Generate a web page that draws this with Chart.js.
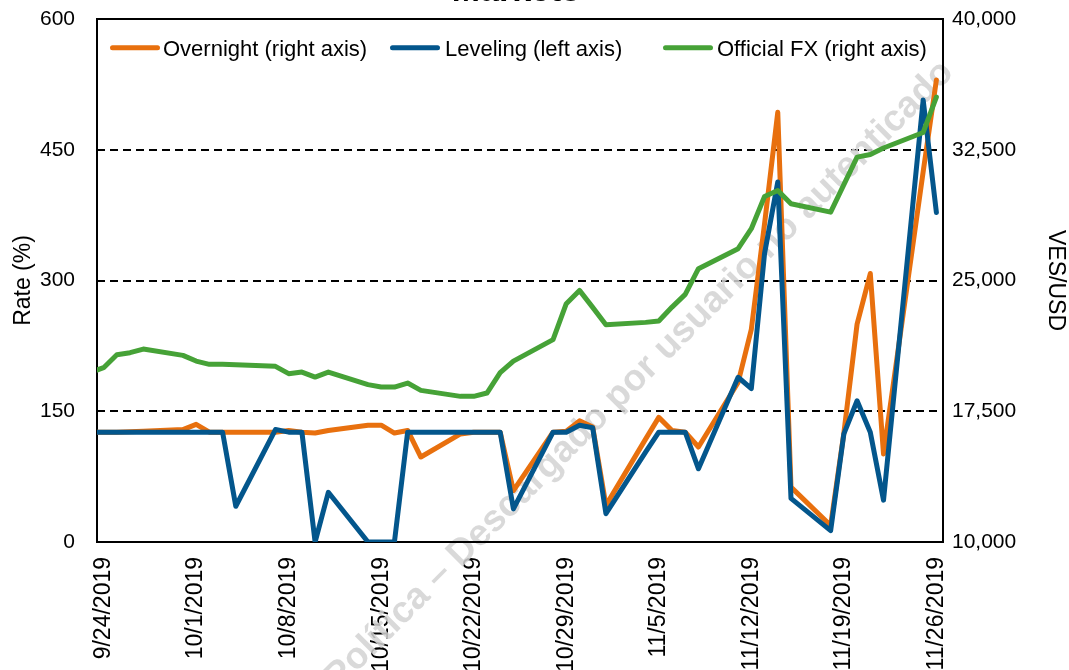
<!DOCTYPE html>
<html>
<head>
<meta charset="utf-8">
<script src="https://cdn.jsdelivr.net/npm/chart.js@4.4.1/dist/chart.umd.min.js"></script>
<style>
  html, body { margin: 0; padding: 0; background: #ffffff; }
  #wrap { width: 1069px; height: 670px; position: relative; }
</style>
</head>
<body>
<div id="wrap"><canvas id="c" width="1069" height="670"></canvas></div>
<script>
// ---- data ----
const dates = [
  '2019-09-23','2019-09-24','2019-09-25','2019-09-26','2019-09-27','2019-09-30',
  '2019-10-01','2019-10-02','2019-10-03','2019-10-04','2019-10-07','2019-10-08',
  '2019-10-09','2019-10-10','2019-10-11','2019-10-14','2019-10-15','2019-10-16',
  '2019-10-17','2019-10-18','2019-10-21','2019-10-22','2019-10-23','2019-10-24',
  '2019-10-25','2019-10-28','2019-10-29','2019-10-30','2019-10-31','2019-11-01',
  '2019-11-04','2019-11-05','2019-11-06','2019-11-07','2019-11-08','2019-11-11',
  '2019-11-12','2019-11-13','2019-11-14','2019-11-15','2019-11-18','2019-11-19',
  '2019-11-20','2019-11-21','2019-11-22','2019-11-25','2019-11-26'
];
const overnight = [
  126, 126, 126, 126.5, 127, 129,
  135, 126, 126, 126, 126, 128,
  126, 125, 128, 134, 134, 125,
  128, 97.5, 124, 126, 126, 126,
  59, 126, 127, 139, 132, 42,
  118, 143, 128, 126, 109, 183,
  244, 365, 493, 63, 19, 125,
  250, 308, 101, 425, 530
];
const leveling = [
  126, 126, 126, 126, 126, 126,
  126, 126, 126, 41, 129, 126,
  126, 0, 57, 0, 0, 0,
  126, 126, 126, 126, 126, 126,
  38, 126, 126, 134, 131, 32.5,
  103, 126, 126, 126, 84, 189,
  176, 331, 413, 50, 13, 124,
  162, 126, 48, 507, 378
];
const officialFX = [
  19730, 20000, 20745, 20860, 21067, 20705,
  20379, 20189, 20189, 20172, 20075, 19656,
  19748, 19461, 19748, 19025, 18888, 18888,
  19117, 18699, 18354, 18354, 18544, 19713,
  20378, 21606, 23670, 24432, 23458, 22466,
  22598, 22672, 23475, 24203, 25677, 26824,
  27970, 29822, 30167, 29403, 28922, 30500,
  32076, 32231, 32603, 33492, 35517
];
const tickLabels = ['9/24/2019','10/1/2019','10/8/2019','10/15/2019','10/22/2019',
                    '10/29/2019','11/5/2019','11/12/2019','11/19/2019','11/26/2019'];
const leftTicks = [0, 150, 300, 450, 600];
const rightTicks = [10000, 17500, 25000, 32500, 40000];
const seriesNames = ['Overnight (right axis)', 'Leveling (left axis)', 'Official FX (right axis)'];
const titleText = 'Markets';
const watermarkText = 'Política – Descargado por usuario no autenticado';

// ---- helpers ----
const BASE = Date.UTC(2019, 8, 24);
function isoToDay(s) { const p = s.split('-').map(Number); return (Date.UTC(p[0], p[1]-1, p[2]) - BASE) / 86400000; }
function mdyToDay(s) { const p = s.split('/').map(Number); return (Date.UTC(p[2], p[0]-1, p[1]) - BASE) / 86400000; }
const dayX = dates.map(isoToDay);
const tickDays = tickLabels.map(mdyToDay);
const pts = arr => arr.map((v, i) => ({ x: dayX[i], y: v }));

const FONT = '"Liberation Sans", Arial, sans-serif';
const COLORS = { orange: '#E8700E', blue: '#03568C', green: '#46A237' };
// legend item start positions (line start, text start), as laid out in the reference
const legendLineX = [110, 390, 663];
const legendTextX = [163, 445, 717];

const framePlugin = {
  id: 'frame',
  beforeDatasetsDraw(chart) {
    const { ctx, chartArea: a } = chart;
    // watermark
    ctx.save();
    ctx.translate(955, 74);
    ctx.rotate(-Math.PI / 4);
    ctx.font = 'bold 37px ' + FONT;
    ctx.fillStyle = 'rgba(210,210,210,0.85)';
    ctx.textAlign = 'right';
    ctx.textBaseline = 'alphabetic';
    ctx.fillText(watermarkText, 0, 0);
    ctx.restore();
    // plot border
    ctx.save();
    ctx.strokeStyle = '#000';
    ctx.lineWidth = 2;
    ctx.strokeRect(a.left, a.top, a.right - a.left, a.bottom - a.top);
    ctx.restore();
  },
  afterDraw(chart) {
    const { ctx } = chart;
    // title (mostly outside the canvas, as in the reference)
    ctx.save();
    ctx.font = 'bold 34px ' + FONT;
    ctx.fillStyle = '#000';
    ctx.textAlign = 'center';
    ctx.textBaseline = 'alphabetic';
    ctx.fillText(titleText, 516, 0.5);
    ctx.restore();
    // legend inside the plot area
    ctx.save();
    ctx.font = '22px ' + FONT;
    const ds = chart.data.datasets;
    const lineW = 50, yLine = 47.7, yText = 55.5;
    ds.forEach((d, i) => {
      const x = legendLineX[i];
      ctx.strokeStyle = d.borderColor;
      ctx.lineWidth = 5;
      ctx.lineCap = 'round';
      ctx.beginPath();
      ctx.moveTo(x + 2.5, yLine);
      ctx.lineTo(x + lineW - 2.5, yLine);
      ctx.stroke();
      ctx.fillStyle = '#000';
      ctx.textAlign = 'left';
      ctx.textBaseline = 'alphabetic';
      ctx.fillText(d.label, legendTextX[i], yText);
    });
    ctx.restore();
  }
};

new Chart(document.getElementById('c'), {
  type: 'line',
  data: {
    datasets: [
      { label: seriesNames[0], data: pts(overnight), borderColor: COLORS.orange, backgroundColor: COLORS.orange, yAxisID: 'y', order: 2 },
      { label: seriesNames[1], data: pts(leveling), borderColor: COLORS.blue, backgroundColor: COLORS.blue, yAxisID: 'y', order: 1 },
      { label: seriesNames[2], data: pts(officialFX), borderColor: COLORS.green, backgroundColor: COLORS.green, yAxisID: 'y2', order: 0 }
    ]
  },
  options: {
    responsive: false,
    animation: false,
    devicePixelRatio: 1,
    layout: { padding: { top: 19, left: 0, right: 0, bottom: 0 } },
    elements: {
      line: { borderWidth: 5, tension: 0, borderJoinStyle: 'round', borderCapStyle: 'round' },
      point: { radius: 0 }
    },
    plugins: { legend: { display: false }, tooltip: { enabled: false }, title: { display: false } },
    scales: {
      x: {
        type: 'linear',
        min: -0.5,
        max: 63.5,
        afterBuildTicks: s => { s.ticks = tickDays.map(v => ({ value: v })); },
        afterFit: s => { s.height = 128; },
        grid: { display: false, drawTicks: false },
        border: { display: false },
        ticks: {
          autoSkip: false, maxRotation: 90, minRotation: 90, padding: 15,
          color: '#000', font: { family: FONT, size: 23 },
          callback: v => { const i = tickDays.indexOf(v); return i >= 0 ? tickLabels[i] : ''; }
        }
      },
      y: {
        position: 'left',
        min: 0, max: 600,
        afterBuildTicks: s => { s.ticks = leftTicks.map(v => ({ value: v })); },
        afterFit: s => { s.width = 97; },
        grid: {
          drawTicks: true, tickLength: 22, tickColor: 'rgba(0,0,0,0)', lineWidth: 2,
          color: c => (c.tick && (c.tick.value === 0 || c.tick.value === 600)) ? 'rgba(0,0,0,0)' : '#000'
        },
        border: { display: false, dash: [8, 5] },
        ticks: { padding: 0, color: '#000', font: { family: FONT, size: 21 } },
        title: { display: true, text: 'Rate (%)', color: '#000', font: { family: FONT, size: 23 }, padding: { top: 10, bottom: 0 } }
      },
      y2: {
        position: 'right',
        min: 10000, max: 40000,
        afterBuildTicks: s => { s.ticks = rightTicks.map(v => ({ value: v })); },
        afterFit: s => { s.width = 126; },
        grid: { display: false, drawTicks: true, tickLength: 9, tickColor: 'rgba(0,0,0,0)' },
        border: { display: false },
        ticks: {
          padding: 0, color: '#000', font: { family: FONT, size: 21 },
          callback: v => Number(v).toLocaleString('en-US')
        },
        title: { display: true, text: 'VES/USD', color: '#000', font: { family: FONT, size: 23 }, padding: { top: 0, bottom: 18 } }
      }
    }
  },
  plugins: [framePlugin]
});
</script>
</body>
</html>
